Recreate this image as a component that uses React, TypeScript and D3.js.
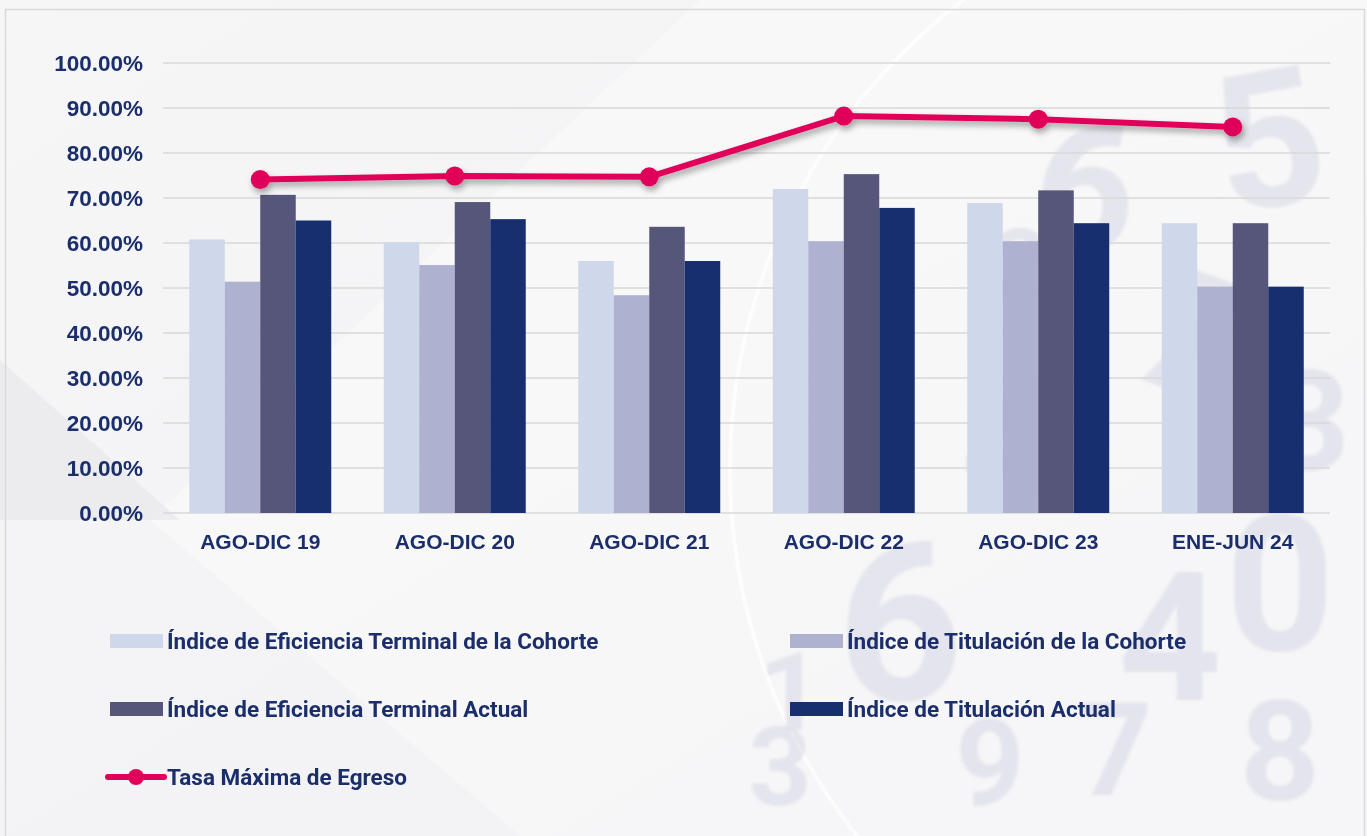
import { useEffect, useRef } from "react";
import * as d3 from "d3";

const categories = ["AGO-DIC 19", "AGO-DIC 20", "AGO-DIC 21", "AGO-DIC 22", "AGO-DIC 23", "ENE-JUN 24"];
const seriesNames = [
  "Índice de Eficiencia Terminal de la Cohorte",
  "Índice de Titulación de la Cohorte",
  "Índice de Eficiencia Terminal Actual",
  "Índice de Titulación Actual",
];
const eficienciaCohorte = [0.608, 0.602, 0.56, 0.72, 0.689, 0.644];
const titulacionCohorte = [0.514, 0.551, 0.484, 0.604, 0.604, 0.503];
const eficienciaActual = [0.707, 0.691, 0.636, 0.753, 0.717, 0.644];
const titulacionActual = [0.65, 0.653, 0.56, 0.678, 0.644, 0.503];
const tasaMaximaName = "Tasa Máxima de Egreso";
const tasaMaxima = [0.741, 0.749, 0.747, 0.882, 0.875, 0.858];
const yTicks = [0, 0.1, 0.2, 0.3, 0.4, 0.5, 0.6, 0.7, 0.8, 0.9, 1];
// decorative watermark digits in the background
const watermarkDigits = ["5", "6", "2", "7", "4", "6", "4", "0", "1", "3", "7", "9", "8", "3"];

const barColors = ["#cfd8ea", "#aeb1d0", "#55567a", "#172f6f"];
const lineColor = "#e0005a";
const textColor = "#1b2e6c";

export default function App() {
  const svgRef = useRef<SVGSVGElement | null>(null);

  useEffect(() => {
    document.body.style.margin = "0";
    if (!svgRef.current) return;
    const svg = d3.select(svgRef.current);
    svg.selectAll("*").remove();

    const width = 1367;
    const height = 836;
    const left = 163;
    const right = 1330;
    const top = 63;
    const bottom = 513;

    const defs = svg.append("defs");
    const bg = defs.append("linearGradient").attr("id", "bg-grad")
      .attr("x1", 0).attr("y1", 0).attr("x2", 1).attr("y2", 1);
    bg.append("stop").attr("offset", "0%").attr("stop-color", "#f6f6f7");
    bg.append("stop").attr("offset", "100%").attr("stop-color", "#f1f1f4");
    const shadow = defs.append("filter").attr("id", "shadow")
      .attr("x", "-20%").attr("y", "-50%").attr("width", "140%").attr("height", "200%");
    shadow.append("feDropShadow").attr("dx", 2).attr("dy", 4).attr("stdDeviation", 3)
      .attr("flood-color", "#000").attr("flood-opacity", 0.35);
    const blur = defs.append("filter").attr("id", "soft");
    blur.append("feGaussianBlur").attr("stdDeviation", 1.5);

    svg.attr("viewBox", `0 0 ${width} ${height}`);

    // background
    svg.append("rect").attr("width", width).attr("height", height).attr("fill", "url(#bg-grad)");
    svg.append("path")
      .attr("d", `M150,520 L520,836 L1367,836 L1367,0 L700,0 Z`)
      .attr("fill", "#ffffff").attr("opacity", 0.35);
    svg.append("path")
      .attr("d", `M0,360 L180,520 L0,520 Z`)
      .attr("fill", "#e6e6ea").attr("opacity", 0.6);
    svg.append("circle").attr("cx", 1320).attr("cy", 470).attr("r", 590)
      .attr("fill", "none").attr("stroke", "#ffffff").attr("stroke-width", 4).attr("opacity", 0.7);

    // [x, baseline y, size, rotation] for each watermark digit, kept inside the canvas
    const wmPos: [number, number, number, number][] = [
      [1280, 205, 190, -10], [1075, 250, 180, 10], [1020, 300, 100, 0], [1170, 390, 170, 20],
      [1010, 500, 170, 0], [900, 700, 220, 0], [1170, 700, 180, 0], [1280, 650, 190, 0],
      [790, 730, 110, 0], [780, 805, 110, 0], [1115, 795, 130, 0], [990, 805, 120, 0],
      [1280, 800, 140, 0], [1310, 470, 140, 0],
    ];
    svg.append("g")
      .attr("filter", "url(#soft)")
      .selectAll("text")
      .data(watermarkDigits)
      .join("text")
      .attr("transform", (_, i) => `translate(${wmPos[i][0]},${wmPos[i][1]}) rotate(${wmPos[i][3]})`)
      .attr("text-anchor", "middle")
      .attr("font-family", "Roboto, sans-serif")
      .attr("font-weight", 700)
      .attr("font-size", (_, i) => wmPos[i][2])
      .attr("fill", "#c9cbdc")
      .attr("opacity", 0.4)
      .text((d) => d);

    // chart frame
    svg.append("rect").attr("x", 5.5).attr("y", 9.5).attr("width", width - 8).attr("height", height - 4)
      .attr("fill", "none").attr("stroke", "#d9d9d9").attr("stroke-width", 1.5);

    const x = d3.scaleBand<string>().domain(categories).range([left, right])
      .paddingInner(0.27).paddingOuter(0.135);
    const xs = d3.scaleBand<number>().domain([0, 1, 2, 3]).range([0, x.bandwidth()]);
    const y = d3.scaleLinear().domain([0, 1]).range([bottom, top]);

    const g = svg.append("g");

    // grid
    g.append("g")
      .selectAll("line")
      .data(yTicks)
      .join("line")
      .attr("x1", left).attr("x2", right)
      .attr("y1", (d) => y(d)).attr("y2", (d) => y(d))
      .attr("stroke", "#d9d9d9").attr("stroke-width", 1.5);

    // y axis labels
    g.append("g")
      .selectAll("text")
      .data(yTicks)
      .join("text")
      .attr("x", 143)
      .attr("y", (d) => y(d))
      .attr("dy", "0.36em")
      .attr("text-anchor", "end")
      .attr("font-family", "'Liberation Sans', Arial, sans-serif")
      .attr("font-weight", 700)
      .attr("font-size", 22.5)
      .attr("fill", textColor)
      .text((d) => d3.format(".2%")(d));

    // bars
    const seriesValues = [eficienciaCohorte, titulacionCohorte, eficienciaActual, titulacionActual];
    seriesValues.forEach((vals, s) => {
      g.append("g")
        .selectAll("rect")
        .data(vals)
        .join("rect")
        .attr("x", (_, i) => (x(categories[i]) ?? 0) + (xs(s) ?? 0))
        .attr("y", (d) => y(d))
        .attr("width", xs.bandwidth())
        .attr("height", (d) => bottom - y(d))
        .attr("fill", barColors[s]);
    });

    // x labels
    g.append("g")
      .selectAll("text")
      .data(categories)
      .join("text")
      .attr("x", (d) => (x(d) ?? 0) + x.bandwidth() / 2)
      .attr("y", 549)
      .attr("text-anchor", "middle")
      .attr("font-family", "'Liberation Sans', Arial, sans-serif")
      .attr("font-weight", 700)
      .attr("font-size", 21)
      .attr("fill", textColor)
      .text((d) => d);

    // line series
    const line = d3.line<number>()
      .x((_, i) => (x(categories[i]) ?? 0) + x.bandwidth() / 2)
      .y((d) => y(d));
    const lg = g.append("g").attr("filter", "url(#shadow)");
    lg.append("path").datum(tasaMaxima).attr("d", line)
      .attr("fill", "none").attr("stroke", lineColor).attr("stroke-width", 6)
      .attr("stroke-linejoin", "round");
    lg.selectAll("circle")
      .data(tasaMaxima)
      .join("circle")
      .attr("cx", (_, i) => (x(categories[i]) ?? 0) + x.bandwidth() / 2)
      .attr("cy", (d) => y(d))
      .attr("r", 9.5)
      .attr("fill", lineColor);

    // legend
    const legendItems = [
      { name: seriesNames[0], color: barColors[0], col: 0, row: 0, type: "bar" },
      { name: seriesNames[1], color: barColors[1], col: 1, row: 0, type: "bar" },
      { name: seriesNames[2], color: barColors[2], col: 0, row: 1, type: "bar" },
      { name: seriesNames[3], color: barColors[3], col: 1, row: 1, type: "bar" },
      { name: tasaMaximaName, color: lineColor, col: 0, row: 2, type: "line" },
    ];
    const colX = [110, 790];
    const rowY = [641, 709, 777];
    const leg = svg.append("g");
    legendItems.forEach((item) => {
      const lx = colX[item.col];
      const ly = rowY[item.row];
      if (item.type === "bar") {
        leg.append("rect").attr("x", lx).attr("y", ly - 7).attr("width", 53).attr("height", 14)
          .attr("fill", item.color);
      } else {
        leg.append("line").attr("x1", lx - 2).attr("x2", lx + 54).attr("y1", ly).attr("y2", ly)
          .attr("stroke", item.color).attr("stroke-width", 6).attr("stroke-linecap", "round");
        leg.append("circle").attr("cx", lx + 26).attr("cy", ly).attr("r", 8).attr("fill", item.color);
      }
      leg.append("text")
        .attr("x", lx + 57)
        .attr("y", ly)
        .attr("dy", "0.36em")
        .attr("font-family", "Roboto, sans-serif")
        .attr("font-weight", 700)
        .attr("font-size", 22.5)
        .attr("fill", textColor)
        .text(item.name);
    });
  }, []);

  return <svg ref={svgRef} width={1367} height={836} style={{ display: "block" }} />;
}
